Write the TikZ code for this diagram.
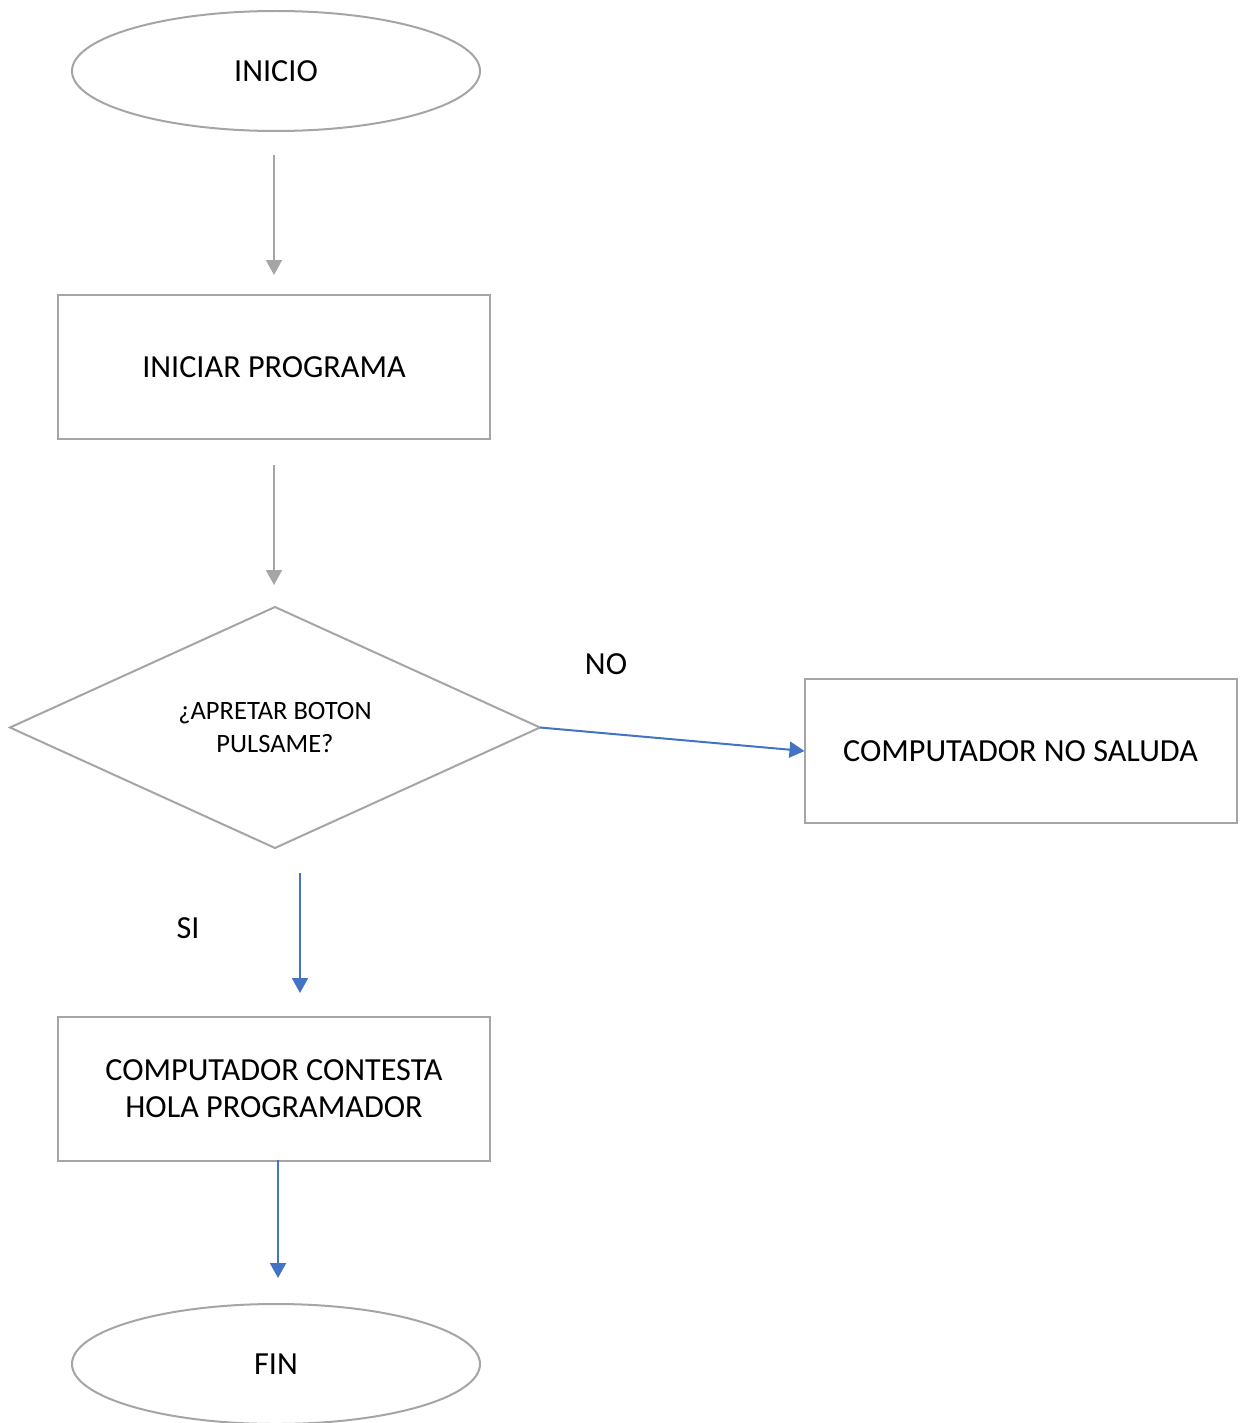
\documentclass[tikz,border=0pt]{standalone}
\usepackage{fontspec}
\setmainfont{Carlito}
\usetikzlibrary{shapes.geometric,arrows.meta}
\definecolor{linegray}{HTML}{A5A5A5}
\definecolor{flowblue}{HTML}{4472C4}
\tikzset{
  base/.style={draw=linegray, line width=2pt, outer sep=0pt, inner sep=0pt, align=center, font=\fontsize{32.2}{37}\selectfont},
  term/.style={base, ellipse, minimum width=408pt, minimum height=120pt},
  procbox/.style={base, rectangle, minimum width=432pt, minimum height=144pt},
  decision/.style={base, diamond, aspect=2.2, minimum width=530pt, minimum height=241pt, font=\fontsize{26.5}{33}\selectfont},
  grayarrow/.style={draw=linegray, line width=2pt, -{Triangle[length=15pt,width=16pt]}},
  bluearrow/.style={draw=flowblue, line width=2pt, -{Triangle[length=15pt,width=16pt]}},
  lbl/.style={font=\fontsize{32.2}{37}\selectfont, inner sep=0pt}
}
\begin{document}
\begin{tikzpicture}[x=1pt,y=-1pt]
\useasboundingbox (0,0) rectangle (1239,1423);
\node[term] (inicio) at (276,71) {INICIO};
\node[procbox] (iniciar) at (274,367) {INICIAR PROGRAMA};
\node[decision] (dec) at (275,727.5) {¿APRETAR BOTON\\PULSAME?};
\node[procbox] (nosal) at (1020.5,751) {COMPUTADOR NO SALUDA};
\node[procbox] (contesta) at (274,1089) {COMPUTADOR CONTESTA\\HOLA PROGRAMADOR};
\node[term] (fin) at (276,1364) {FIN};
\node[lbl] (no) at (606,664) {NO};
\node[lbl] (si) at (188,928) {SI};
\coordinate (a1s) at (274,155);
\coordinate (a1e) at (274,275);
\coordinate (a2s) at (274,465);
\coordinate (a2e) at (274,585);
\coordinate (a3s) at (300,873);
\coordinate (a3e) at (300,993);
\coordinate (a4s) at (278,1160);
\coordinate (a4e) at (278,1278);
\draw[grayarrow] (a1s) -- (a1e);
\draw[grayarrow] (a2s) -- (a2e);
\draw[bluearrow] (dec.east) -- (nosal.west);
\draw[bluearrow] (a3s) -- (a3e);
\draw[bluearrow] (a4s) -- (a4e);
\end{tikzpicture}
\end{document}
